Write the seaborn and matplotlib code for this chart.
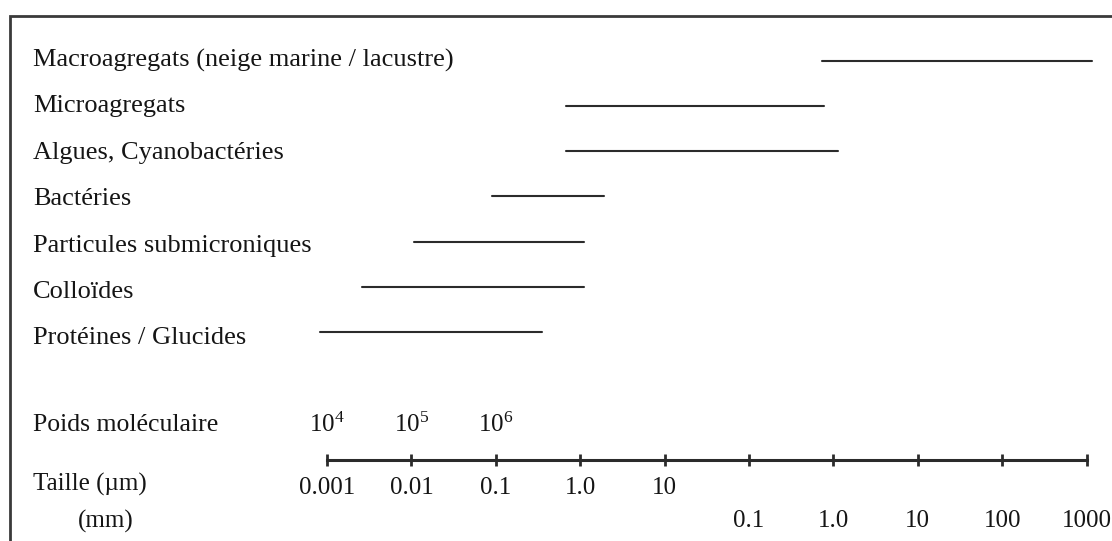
import numpy as np
import pandas as pd
import seaborn as sns
import matplotlib
matplotlib.use("Agg")
import matplotlib.pyplot as plt
import matplotlib.patches as patches
import matplotlib.transforms as mtransforms

# Size ranges of aquatic particles (values in micrometres)
categories = [
    "Macroagregats (neige marine / lacustre)",
    "Microagregats",
    "Algues, Cyanobactéries",
    "Bactéries",
    "Particules submicroniques",
    "Colloïdes",
    "Protéines / Glucides",
]
size_min_um = [740, 0.68, 0.68, 0.09, 0.0107, 0.0026, 0.00083]
size_max_um = [1.15e6, 770, 1130, 1.9, 1.1, 1.1, 0.355]

# Scale bar
scale_ticks_um = [1e-3, 1e-2, 1e-1, 1, 10, 100, 1e3, 1e4, 1e5, 1e6]
um_labels = ["0.001", "0.01", "0.1", "1.0", "10"]
mm_ticks_um = [100, 1e3, 1e4, 1e5, 1e6]
mm_labels = ["0.1", "1.0", "10", "100", "1000"]
mw_ticks_um = [1e-3, 1e-2, 1e-1]
mw_labels = [r"$\mathregular{10^4}$", r"$\mathregular{10^5}$", r"$\mathregular{10^6}$"]

sns.set_theme(style="white")
plt.rcParams["font.family"] = ["Liberation Serif", "DejaVu Serif"]
plt.rcParams["mathtext.fontset"] = "custom"
plt.rcParams["mathtext.rm"] = "Liberation Serif"

FS = 18
TXT = "#151515"
LINE = "#2b2b2b"

df = pd.DataFrame({
    "category": np.repeat(categories, 2),
    "row": np.repeat(np.arange(len(categories)), 2),
    "size": np.ravel(np.column_stack([size_min_um, size_max_um])),
})

W, H = 1112, 541
fig = plt.figure(figsize=(W / 100, H / 100), dpi=100)
ax = fig.add_axes([0, 0, 1, 1])
ax.patch.set_alpha(0)

sns.lineplot(data=df, x="size", y="row", units="category", estimator=None,
             sort=False, color=LINE, linewidth=1.5, legend=False, ax=ax)

# layout: 1e-3 um at px 327, 84.4 px per decade; rows at 60.7 px + 45.2 px each
ax.set_xscale("log")
dec = 84.4
ax.set_xlim(10 ** (-3 - 327 / dec), 10 ** (-3 + (W - 327) / dec))
row0, step = 60.7, 45.2
ax.set_ylim((H - row0) / step, -row0 / step)

for i, name in enumerate(categories):
    ax.text(33 / W, 1 - (60 + 46.4 * i) / H, name, transform=ax.transAxes,
            fontsize=19, color=TXT, va="center", ha="left")

# the scale bar uses the bottom spine
for s in ["top", "left", "right"]:
    ax.spines[s].set_visible(False)
axis_y = 1 - 460 / H
ax.spines["bottom"].set_position(("axes", axis_y))
ax.spines["bottom"].set_bounds(scale_ticks_um[0], scale_ticks_um[-1])
ax.spines["bottom"].set_linewidth(2.2)
ax.spines["bottom"].set_color(LINE)
ax.set_xticks(scale_ticks_um)
ax.set_xticklabels(um_labels + [""] * (len(scale_ticks_um) - len(um_labels)))
ax.xaxis.set_minor_locator(matplotlib.ticker.NullLocator())
ax.tick_params(axis="x", direction="inout", length=8, width=2, color=LINE,
               labelsize=FS, labelcolor=TXT, pad=8, bottom=True)
ax.set_yticks([])
ax.set_xlabel("")
ax.set_ylabel("")

blend = mtransforms.blended_transform_factory(ax.transData, ax.transAxes)
for x, lab in zip(mm_ticks_um, mm_labels):
    ax.text(x, 1 - 521 / H, lab, transform=blend, fontsize=FS, color=TXT,
            ha="center", va="center")
for x, lab in zip(mw_ticks_um, mw_labels):
    ax.text(x, 1 - 425 / H, lab, transform=blend, fontsize=FS, color=TXT,
            ha="center", va="center")

ax.text(33 / W, 1 - 425 / H, "Poids moléculaire", transform=ax.transAxes,
        fontsize=18.5, color=TXT, va="center", ha="left")
ax.text(33 / W, 1 - 484 / H, "Taille (µm)", transform=ax.transAxes,
        fontsize=FS, color=TXT, va="center", ha="left")
ax.text(78 / W, 1 - 521 / H, "(mm)", transform=ax.transAxes,
        fontsize=FS, color=TXT, va="center", ha="left")

# outer frame, running off the right and bottom edges
frame = patches.Rectangle((10 / W, -0.1), 1.2, (H - 16) / H + 0.1,
                          transform=fig.transFigure, fill=False,
                          edgecolor="#3a3a3a", linewidth=2, clip_on=False)
fig.patches.append(frame)

fig.savefig("out.png", dpi=100, facecolor="white")
